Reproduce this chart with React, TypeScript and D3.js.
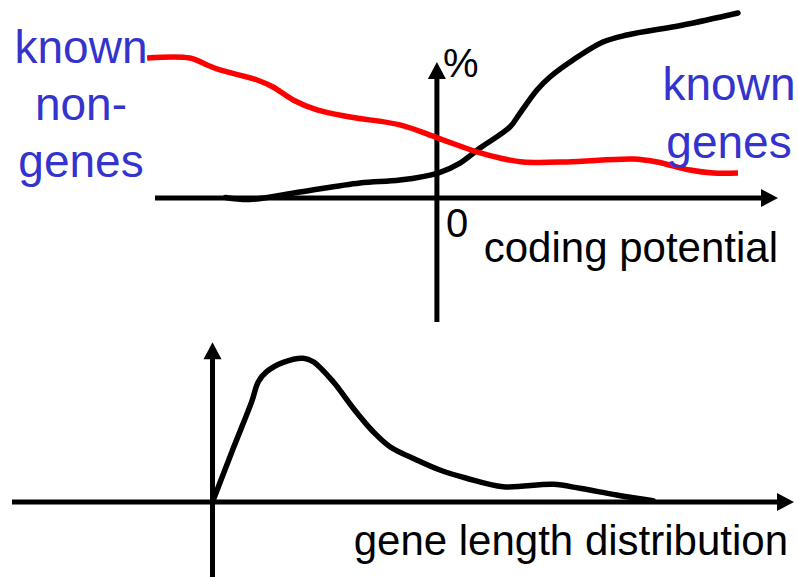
import React from "react";
import * as d3 from "d3";

// ---- Top panel data (coding potential, %) ----
const nonGeneX = [-10.28, -8.76, -8.15, -7.69, -6.38, -5.81, -5.1, -4.25, -3.08, -1.31, 0.04, 1.42, 2.24, 3.05, 4.62, 6.96, 7.81, 8.98, 9.8, 10.68];
const nonGeneY = [75.7, 75.7, 71.9, 69.2, 63.8, 60.0, 53.0, 47.6, 43.8, 39.5, 32.4, 24.9, 21.6, 19.5, 19.5, 21.1, 19.5, 15.1, 13.5, 13.5];
const geneX = [-7.5, -6.63, -4.86, -2.73, -1.31, 0.04, 0.82, 1.53, 2.59, 2.95, 3.55, 4.01, 4.83, 5.89, 6.74, 8.73, 10.68];
const geneY = [0.3, -0.8, 3.2, 8.1, 9.7, 13.5, 18.9, 27.0, 38.4, 45.9, 58.4, 65.4, 74.6, 84.3, 88.1, 93.5, 100];
const topXAxisExtent = [-10, 12.1];
const topYAxisExtent = [-67, 73.5];

// ---- Bottom panel data (gene length distribution) ----
const lengthX = [0, 2.07, 3.91, 4.57, 5.4, 7.06, 9.05, 10.05, 12.04, 14.04, 16.03, 17.7, 20.36, 22.68, 25.34, 28.99, 33.98, 36.64, 40.3, 43.95];
const lengthY = [0, 37.3, 69.7, 83.5, 90.5, 97.0, 99.8, 97.4, 83.5, 65.1, 48.8, 38.4, 29.2, 22.2, 16.5, 10.6, 12.3, 9.5, 4.9, 0.9];
const botXAxisExtent = [-20, 58];
const botYAxisExtent = [-52, 111];

// ---- Labels ----
const leftLabel = ["known", "non-", "genes"];
const rightLabel = ["known", "genes"];
const topYLabel = "%";
const topOriginLabel = "0";
const topXLabel = "coding potential";
const botXLabel = "gene length distribution";

const W = 798;
const H = 577;
const FONT = "'Liberation Sans', Arial, Helvetica, sans-serif";
const BLUE = "#3434cc";
const RED = "#ff0000";
const AXW = 5;
const LW = 5.5;
const HEAD_L = 17;
const HEAD_W = 18;

function Arrow({ x1, y1, x2, y2 }: { x1: number; y1: number; x2: number; y2: number }) {
  const dx = x2 - x1;
  const dy = y2 - y1;
  const len = Math.hypot(dx, dy);
  const ux = dx / len;
  const uy = dy / len;
  const bx = x2 - ux * HEAD_L;
  const by = y2 - uy * HEAD_L;
  const px = -uy * (HEAD_W / 2);
  const py = ux * (HEAD_W / 2);
  return (
    <g>
      <line x1={x1} y1={y1} x2={bx + ux * 2} y2={by + uy * 2} stroke="#000" strokeWidth={AXW} />
      <polygon points={`${x2},${y2} ${bx + px},${by + py} ${bx - px},${by - py}`} fill="#000" />
    </g>
  );
}

export default function App() {
  // top scales
  const xTop = d3.scaleLinear().domain([-10, 12.1]).range([155, 778]);
  const yTop = d3.scaleLinear().domain([0, 100]).range([198, 13]);
  // bottom scales
  const xBot = d3.scaleLinear().domain([-20, 58]).range([12, 794]);
  const yBot = d3.scaleLinear().domain([0, 100]).range([502, 358]);

  const lineTop = d3
    .line<[number, number]>()
    .x((d) => xTop(d[0]))
    .y((d) => yTop(d[1]))
    .curve(d3.curveCatmullRom.alpha(0.5));
  const lineBot = d3
    .line<[number, number]>()
    .x((d) => xBot(d[0]))
    .y((d) => yBot(d[1]))
    .curve(d3.curveCatmullRom.alpha(0.5));

  const nonGenePts = nonGeneX.map((x, i) => [x, nonGeneY[i]] as [number, number]);
  const genePts = geneX.map((x, i) => [x, geneY[i]] as [number, number]);
  const lengthPts = lengthX.map((x, i) => [x, lengthY[i]] as [number, number]);

  return (
    <svg
      width={W}
      height={H}
      viewBox={`0 0 ${W} ${H}`}
      style={{ position: "absolute", left: 0, top: 0, background: "#fff" }}
      fontFamily={FONT}
    >
      <rect x={0} y={0} width={W} height={H} fill="#fff" />

      {/* Top panel axes */}
      <Arrow x1={xTop(topXAxisExtent[0])} y1={yTop(0)} x2={xTop(topXAxisExtent[1])} y2={yTop(0)} />
      <Arrow x1={xTop(0)} y1={yTop(topYAxisExtent[0])} x2={xTop(0)} y2={yTop(topYAxisExtent[1])} />

      {/* Top panel curves */}
      <path d={lineTop(genePts) || ""} fill="none" stroke="#000" strokeWidth={LW} strokeLinecap="round" strokeLinejoin="round" />
      <path d={lineTop(nonGenePts) || ""} fill="none" stroke={RED} strokeWidth={LW} strokeLinecap="butt" strokeLinejoin="round" />

      {/* Top panel text */}
      <text x={xTop(0) + 6} y={yTop(0) - 121} fontSize={40} fill="#000">{topYLabel}</text>
      <text x={xTop(0) + 9} y={yTop(0) + 39} fontSize={40} fill="#000">{topOriginLabel}</text>
      <text x={xTop(topXAxisExtent[1])} y={yTop(0) + 64} fontSize={42} fill="#000" textAnchor="end">{topXLabel}</text>
      {leftLabel.map((t, i) => (
        <text key={"l" + i} x={81} y={63 + i * 57} fontSize={46} fill={BLUE} textAnchor="middle">{t}</text>
      ))}
      {rightLabel.map((t, i) => (
        <text key={"r" + i} x={729} y={100 + i * 58} fontSize={46} fill={BLUE} textAnchor="middle">{t}</text>
      ))}

      {/* Bottom panel axes */}
      <Arrow x1={xBot(botXAxisExtent[0])} y1={yBot(0)} x2={xBot(botXAxisExtent[1])} y2={yBot(0)} />
      <Arrow x1={xBot(0)} y1={yBot(botYAxisExtent[0])} x2={xBot(0)} y2={yBot(botYAxisExtent[1])} />

      {/* Bottom panel curve */}
      <path d={lineBot(lengthPts) || ""} fill="none" stroke="#000" strokeWidth={LW} strokeLinecap="round" strokeLinejoin="round" />

      {/* Bottom panel text */}
      <text x={788} y={555} fontSize={42} fill="#000" textAnchor="end">{botXLabel}</text>
    </svg>
  );
}
